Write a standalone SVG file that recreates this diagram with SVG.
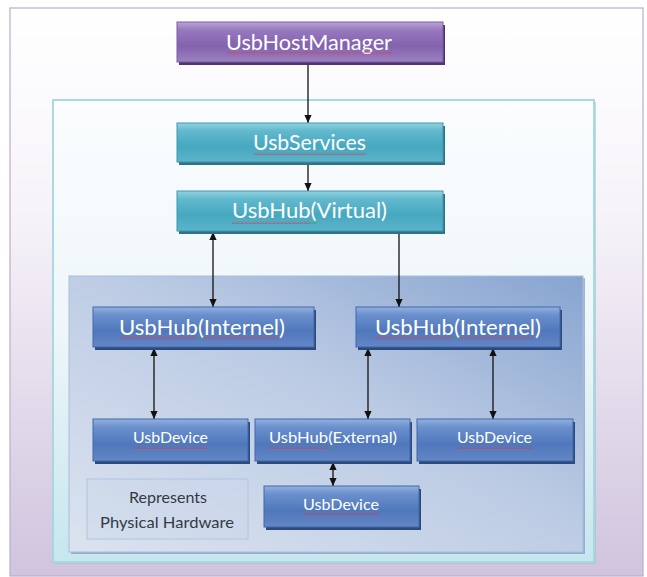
<svg xmlns="http://www.w3.org/2000/svg" width="647" height="577" viewBox="0 0 647 577">
<defs>
<style>
.lbl{font-family:Lato,"Liberation Sans","DejaVu Sans",sans-serif;fill:#ffffff;text-anchor:middle}
.big{font-size:21px}
.small{font-size:16px}
.note{font-family:Lato,"Liberation Sans","DejaVu Sans",sans-serif;font-size:16px;fill:#333a44;text-anchor:middle}
.conn{stroke:#111111;stroke-width:1.3;fill:none}
.one{marker-end:url(#ah)}
.two{marker-end:url(#ah);marker-start:url(#ahs)}
.sqr{fill:url(#sqRed)}
.sqg{fill:url(#sqGreen)}
</style>
<linearGradient id="gFrame" x1="0" y1="0" x2="0" y2="1">
<stop offset="0" stop-color="#ffffff"/>
<stop offset="0.35" stop-color="#f7f4f9"/>
<stop offset="1" stop-color="#d0c4de"/>
</linearGradient>
<linearGradient id="gInner" x1="0" y1="0" x2="0" y2="1">
<stop offset="0" stop-color="#fbfdfe"/>
<stop offset="0.5" stop-color="#eef6f9"/>
<stop offset="1" stop-color="#c6e6ee"/>
</linearGradient>
<linearGradient id="gPanel" x1="1" y1="0" x2="0" y2="1">
<stop offset="0" stop-color="#87a4d0"/>
<stop offset="0.45" stop-color="#bccbe4"/>
<stop offset="1" stop-color="#dbe3ef"/>
</linearGradient>
<linearGradient id="gPurple" x1="0" y1="0" x2="0" y2="1">
<stop offset="0" stop-color="#bba4d6"/>
<stop offset="0.2" stop-color="#9778bf"/>
<stop offset="0.6" stop-color="#8362ae"/>
<stop offset="1" stop-color="#9b81c1"/>
</linearGradient>
<linearGradient id="gCyan" x1="0" y1="0" x2="0" y2="1">
<stop offset="0" stop-color="#93d2e0"/>
<stop offset="0.2" stop-color="#62b9cd"/>
<stop offset="0.6" stop-color="#46a8c0"/>
<stop offset="1" stop-color="#5cb4ca"/>
</linearGradient>
<linearGradient id="gBlue" x1="0" y1="0" x2="0" y2="1">
<stop offset="0" stop-color="#93b1e0"/>
<stop offset="0.2" stop-color="#6a8fcc"/>
<stop offset="0.6" stop-color="#4f78bc"/>
<stop offset="1" stop-color="#6486c6"/>
</linearGradient>
<pattern id="sqRed" x="0" y="0" width="4" height="3" patternUnits="userSpaceOnUse">
<polyline points="0,2.5 2,0.5 4,2.5" fill="none" stroke="#d83a44" stroke-width="0.9"/>
</pattern>
<pattern id="sqGreen" x="0" y="0" width="4" height="3" patternUnits="userSpaceOnUse">
<polyline points="0,2.5 2,0.5 4,2.5" fill="none" stroke="#35a040" stroke-width="0.9"/>
</pattern>
<marker id="ah" viewBox="0 0 10 10" refX="10" refY="5" markerWidth="9" markerHeight="8" markerUnits="userSpaceOnUse" orient="auto">
<path d="M0,0.5 L10,5 L0,9.5 z" fill="#111111"/>
</marker>
<marker id="ahs" viewBox="0 0 10 10" refX="10" refY="5" markerWidth="9" markerHeight="8" markerUnits="userSpaceOnUse" orient="auto-start-reverse">
<path d="M0,0.5 L10,5 L0,9.5 z" fill="#111111"/>
</marker>
</defs>

<rect x="0" y="0" width="647" height="577" fill="#ffffff"/>

<g id="frame">
<rect x="10" y="8" width="633" height="568" fill="url(#gFrame)" stroke="#b9aecb" stroke-width="1.2"/>
</g>

<g id="container-inner">
<rect x="55" y="102" width="541" height="462" fill="#9cc7d0" opacity="0.6"/>
<rect x="53" y="100" width="541" height="462" fill="url(#gInner)" stroke="#a3d6df" stroke-width="1.8"/>
</g>

<g id="panel-physical">
<rect x="71" y="278" width="514" height="276" fill="#6f8bb5" opacity="0.6"/>
<rect x="69" y="276" width="514" height="276" fill="url(#gPanel)" stroke="#a9bedc" stroke-width="1"/>
</g>

<g id="connectors">
<line class="conn one" x1="308" y1="62" x2="308" y2="123"/>
<line class="conn one" x1="308" y1="162" x2="308" y2="191"/>
<line class="conn two" x1="213" y1="232" x2="213" y2="307"/>
<line class="conn one" x1="399" y1="231" x2="399" y2="307"/>
<line class="conn two" x1="154" y1="348" x2="154" y2="419"/>
<line class="conn two" x1="368" y1="348" x2="368" y2="419"/>
<line class="conn two" x1="493" y1="348" x2="493" y2="419"/>
<line class="conn two" x1="333" y1="462" x2="333" y2="486"/>
</g>

<g id="node-usbhostmanager">
<rect x="179" y="25" width="266" height="40" fill="#4e3570"/>
<rect x="177" y="22" width="266" height="40" fill="url(#gPurple)" stroke="#7a5ca3" stroke-width="1"/>
<text class="lbl big" x="309" y="50" textLength="166" lengthAdjust="spacingAndGlyphs">UsbHostManager</text>
<rect class="sqr" x="227" y="52" width="166" height="3"/>
</g>

<g id="node-usbservices">
<rect x="179" y="126" width="266" height="39" fill="#2f7384"/>
<rect x="177" y="123" width="266" height="39" fill="url(#gCyan)" stroke="#3f97ae" stroke-width="1"/>
<text class="lbl big" x="309.5" y="150" textLength="113" lengthAdjust="spacingAndGlyphs">UsbServices</text>
<rect class="sqr" x="254" y="152" width="112" height="3"/>
</g>

<g id="node-usbhub-virtual">
<rect x="179" y="194" width="266" height="40" fill="#2f7384"/>
<rect x="177" y="191" width="266" height="40" fill="url(#gCyan)" stroke="#3f97ae" stroke-width="1"/>
<text class="lbl big" x="309.5" y="218" textLength="155" lengthAdjust="spacingAndGlyphs">UsbHub(Virtual)</text>
<rect class="sqr" x="232" y="221" width="78" height="3"/>
<rect class="sqg" x="310" y="221" width="7" height="3"/>
</g>

<g id="node-usbhub-internel-left">
<rect x="95" y="310" width="221" height="40" fill="#2c4a7c"/>
<rect x="93" y="307" width="221" height="40" fill="url(#gBlue)" stroke="#4068a8" stroke-width="1"/>
<text class="lbl big" x="202" y="335" textLength="166" lengthAdjust="spacingAndGlyphs">UsbHub(Internel)</text>
<rect class="sqr" x="120" y="337" width="77" height="3"/>
<rect class="sqg" x="197" y="337" width="6" height="3"/>
<rect class="sqr" x="203" y="337" width="76" height="3"/>
</g>

<g id="node-usbhub-internel-right">
<rect x="358" y="310" width="204" height="40" fill="#2c4a7c"/>
<rect x="356" y="307" width="204" height="40" fill="url(#gBlue)" stroke="#4068a8" stroke-width="1"/>
<text class="lbl big" x="458" y="335" textLength="166" lengthAdjust="spacingAndGlyphs">UsbHub(Internel)</text>
<rect class="sqr" x="375" y="337" width="77" height="3"/>
<rect class="sqg" x="452" y="337" width="6" height="3"/>
<rect class="sqr" x="458" y="337" width="75" height="3"/>
</g>

<g id="node-usbdevice-left">
<rect x="95" y="422" width="155" height="42" fill="#2c4a7c"/>
<rect x="93" y="419" width="155" height="42" fill="url(#gBlue)" stroke="#4068a8" stroke-width="1"/>
<text class="lbl small" x="170.5" y="443" textLength="75" lengthAdjust="spacingAndGlyphs">UsbDevice</text>
<rect class="sqr" x="133" y="446" width="75" height="3"/>
</g>

<g id="node-usbhub-external">
<rect x="257" y="422" width="155" height="42" fill="#2c4a7c"/>
<rect x="255" y="419" width="155" height="42" fill="url(#gBlue)" stroke="#4068a8" stroke-width="1"/>
<text class="lbl small" x="333" y="443" textLength="128" lengthAdjust="spacingAndGlyphs">UsbHub(External)</text>
<rect class="sqr" x="268" y="446" width="59" height="3"/>
<rect class="sqg" x="327" y="446" width="6" height="3"/>
</g>

<g id="node-usbdevice-right">
<rect x="419" y="422" width="156" height="42" fill="#2c4a7c"/>
<rect x="417" y="419" width="156" height="42" fill="url(#gBlue)" stroke="#4068a8" stroke-width="1"/>
<text class="lbl small" x="494.5" y="443" textLength="75" lengthAdjust="spacingAndGlyphs">UsbDevice</text>
<rect class="sqr" x="457" y="446" width="75" height="3"/>
</g>

<g id="node-usbdevice-bottom">
<rect x="266" y="489" width="155" height="41" fill="#2c4a7c"/>
<rect x="264" y="486" width="155" height="41" fill="url(#gBlue)" stroke="#4068a8" stroke-width="1"/>
<text class="lbl small" x="341" y="510" textLength="76" lengthAdjust="spacingAndGlyphs">UsbDevice</text>
<rect class="sqr" x="303" y="512" width="76" height="3"/>
</g>

<g id="note-physical-hardware">
<rect x="87" y="479" width="161" height="60" fill="#c9d6ea" fill-opacity="0.35" stroke="#b2c4de" stroke-width="1"/>
<text class="note" x="168" y="503" textLength="78" lengthAdjust="spacingAndGlyphs">Represents</text>
<text class="note" x="167" y="528" textLength="134" lengthAdjust="spacingAndGlyphs">Physical Hardware</text>
</g>
</svg>
